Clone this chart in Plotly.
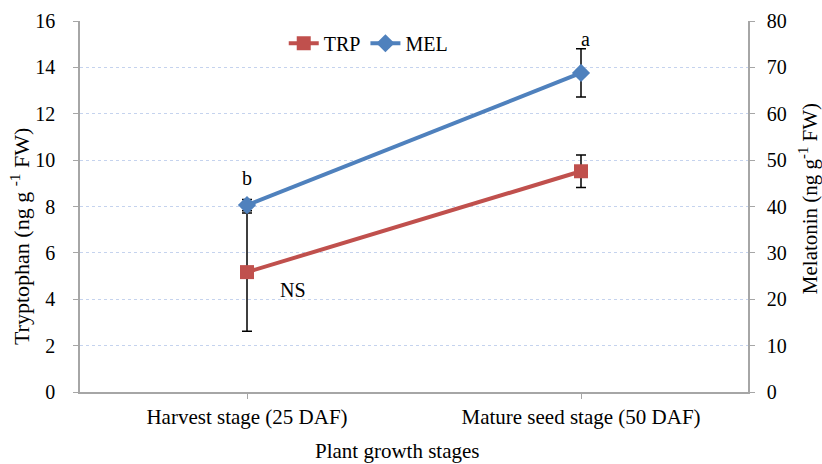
import plotly.graph_objects as go

categories = ["Harvest stage (25 DAF)", "Mature seed stage (50 DAF)"]
trp_values = [5.17, 9.52]
trp_errors = [2.55, 0.70]
mel_values = [40.3, 68.8]
mel_errors = [1.2, 5.2]
left_ticks = [0, 2, 4, 6, 8, 10, 12, 14, 16]
right_ticks = [0, 10, 20, 30, 40, 50, 60, 70, 80]

xpos = list(range(len(categories)))
FONT = "Liberation Serif, Times New Roman, serif"
AXC = "#a6a6a6"

def f(size):
    return dict(family=FONT, size=size, color="black")

fig = go.Figure()
fig.add_trace(go.Scatter(
    x=xpos, y=trp_values, name="TRP", mode="lines+markers",
    line=dict(color="#C0504D", width=4),
    marker=dict(symbol="square", size=14, color="#C0504D"),
    error_y=dict(type="data", array=trp_errors, color="black", thickness=1.5, width=5),
))
fig.add_trace(go.Scatter(
    x=xpos, y=mel_values, name="MEL", mode="lines+markers", yaxis="y2",
    line=dict(color="#4F81BD", width=4),
    marker=dict(symbol="diamond", size=14, color="#4F81BD"),
    error_y=dict(type="data", array=mel_errors, color="black", thickness=1.5, width=5),
))

fig.add_annotation(x=0, y=mel_values[0] + mel_errors[0], yref="y2", text="b",
                   showarrow=False, yshift=22, font=f(20))
fig.add_annotation(x=1, y=mel_values[1] + mel_errors[1], yref="y2", text="a",
                   showarrow=False, yshift=10, xshift=4, font=f(20))
fig.add_annotation(x=0, y=trp_values[0], text="NS", showarrow=False, xshift=46, yshift=-18,
                   font=f(20))

# axis titles placed as annotations
fig.add_annotation(xref="paper", yref="paper", x=-0.09, y=0.42, xanchor="center", yanchor="middle",
                   text="Tryptophan (ng g <sup>-1</sup> FW)", textangle=-90, showarrow=False, font=f(22))
fig.add_annotation(xref="paper", yref="paper", x=1.09, y=0.52, xanchor="center", yanchor="middle",
                   text="Melatonin (ng g<sup>-1</sup> FW)", textangle=-90, showarrow=False, font=f(21))
fig.add_annotation(xref="paper", yref="paper", x=0.475, y=-0.16, xanchor="center", yanchor="middle",
                   text="Plant growth stages", showarrow=False, font=f(21))

fig.update_layout(
    width=822, height=464,
    margin=dict(l=80, r=74, t=21, b=72, autoexpand=False),
    plot_bgcolor="white", paper_bgcolor="white",
    font=f(19),
    showlegend=True,
    legend=dict(orientation="h", x=0.305, y=0.94, xanchor="left", yanchor="middle",
                bgcolor="rgba(0,0,0,0)", font=f(20), tracegroupgap=0),
    xaxis=dict(range=[-0.5, 1.5], tickmode="array", tickvals=xpos, ticktext=categories,
               showgrid=False, showline=True, linecolor=AXC, linewidth=1.5,
               ticks="outside", tickcolor=AXC, ticklen=5, zeroline=False, automargin=False,
               tickfont=f(21)),
    yaxis=dict(range=[0, 16], tickvals=left_ticks, showgrid=True, gridcolor="#c5d3ee",
               griddash="dot", gridwidth=1, showline=True, linecolor=AXC, linewidth=1.5,
               ticks="outside", tickcolor=AXC, ticklen=5, zeroline=False, automargin=False,
               tickfont=f(20), ticklabelstandoff=14),
    yaxis2=dict(range=[0, 80], tickvals=right_ticks, overlaying="y", side="right",
                showgrid=False, showline=True, linecolor=AXC, linewidth=1.5,
                ticks="outside", tickcolor=AXC, ticklen=5, zeroline=False, automargin=False,
                tickfont=f(20), ticklabelstandoff=8),
)

fig.write_html("out.html", config={"displayModeBar": False},
               post_script="document.body.style.margin='0px';document.body.style.overflow='hidden';")
